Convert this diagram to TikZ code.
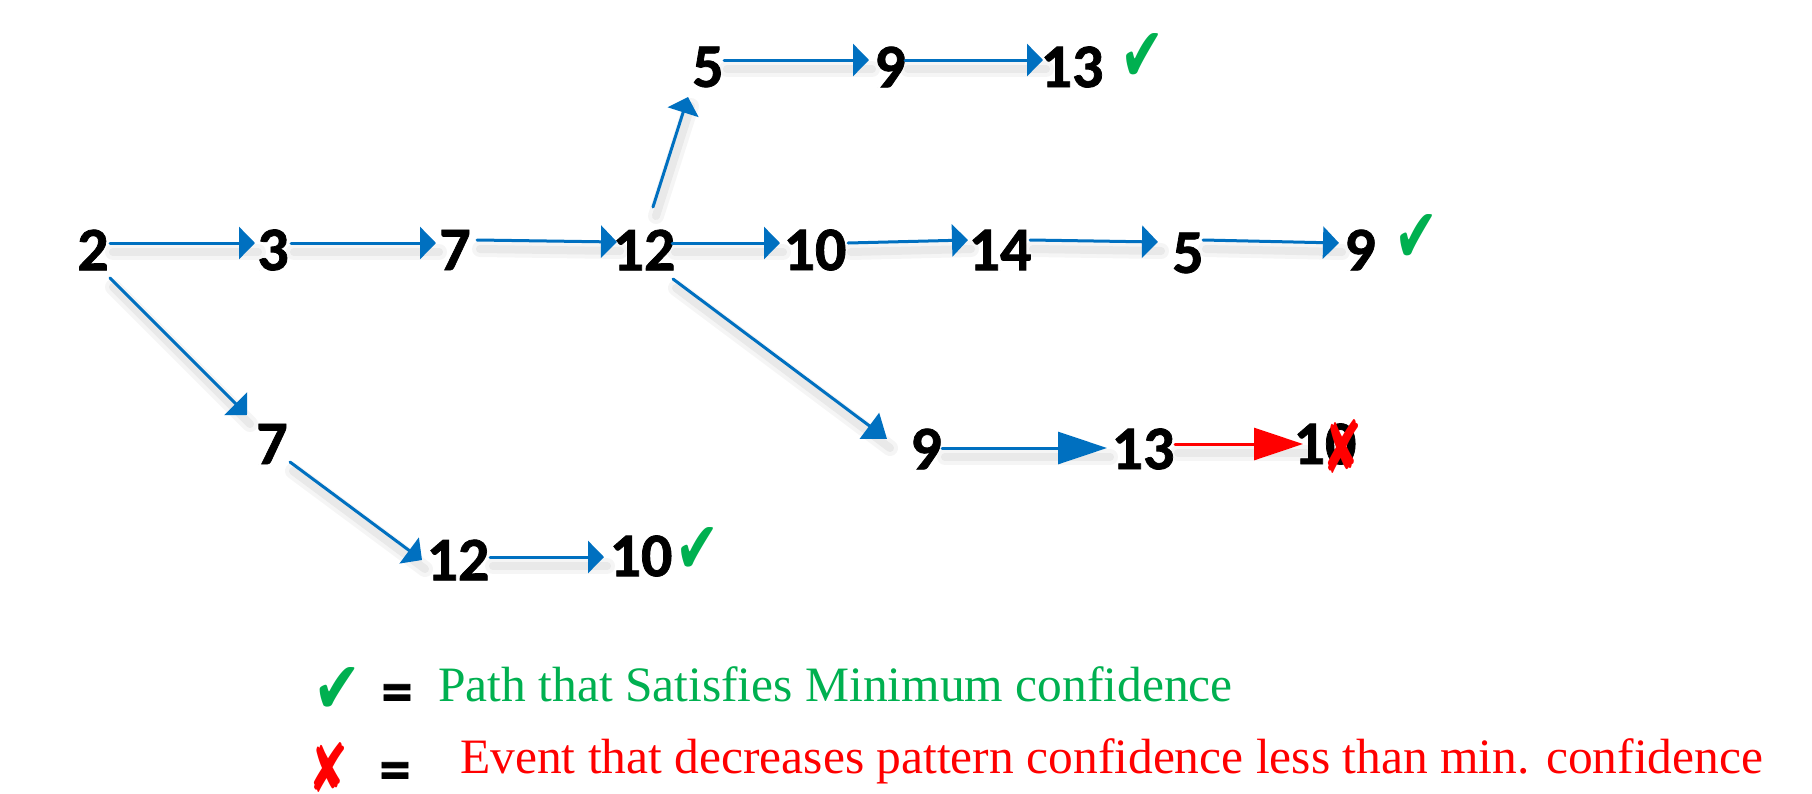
\documentclass[tikz,border=0pt]{standalone}
\usepackage{fontspec}
\usepackage{graphicx}
\setmainfont{Liberation Serif}
\newfontfamily\numfont{Carlito}[BoldFeatures={FakeBold=1.2}]
\newfontfamily\symfont{DejaVu Sans}
\usetikzlibrary{arrows.meta,calc}
\definecolor{arrblue}{HTML}{0070C0}
\definecolor{okgreen}{HTML}{00B050}
\definecolor{badred}{HTML}{FF0000}
\begin{document}
\begin{tikzpicture}[x=1pt,y=-1pt,
  num/.style={inner sep=0pt, font=\numfont\bfseries\fontsize{62}{62}\selectfont, text=black},
  lineshadow/.style={
    preaction={draw=black, opacity=0.04, line width=16pt, -, line cap=round, transform canvas={shift={(3pt,-9pt)}}},
    preaction={draw=black, opacity=0.05, line width=8pt, -, line cap=round, transform canvas={shift={(3pt,-9pt)}}}},
  arr/.style={draw=arrblue, line width=3pt, line cap=round, lineshadow, -{Triangle[length=16pt,width=32pt]}},
  midarr/.style={arr, -{Triangle[length=22pt,width=32pt]}},
  bigarr/.style={arr, -{Triangle[length=49pt,width=32pt]}},
  redarr/.style={bigarr, draw=badred, fill=badred},
  chk/.style={inner sep=0pt, font=\symfont, text=okgreen},
  xmk/.style={inner sep=0pt, font=\symfont, text=badred},
  eq/.style={inner sep=0pt, anchor=base, font=\numfont\bfseries\fontsize{62}{62}\selectfont, text=black},
  legtext/.style={inner sep=0pt, anchor=base west, font=\fontsize{49.5}{50}\selectfont}
]
\useasboundingbox (0,0) rectangle (1812,793);

% main row
\node[num] (n2)  at (93,250)   {2};
\node[num] (n3)  at (273,250)  {3};
\node[num] (n7)  at (455,250)  {7};
\node[num] (n12) at (644,250)  {12};
\node[num] (n10) at (815,250)  {10};
\node[num] (n14) at (1000,250) {14};
\node[num] (n5b) at (1188,253) {5};
\node[num] (n9b) at (1360,250) {9};
% top row
\node[num] (t5)  at (708,67)   {5};
\node[num] (t9)  at (890,67)   {9};
\node[num] (t13) at (1072,67)  {13};
% middle row
\node[num] (m9)  at (926,449)  {9};
\node[num] (m13) at (1143,449) {13};
\node[num] (m10) at (1325,444) {10};
% lower branch
\node[num] (l7)  at (272,444)  {7};
\node[num] (l12) at (458,560)  {12};
\node[num] (l10) at (641,556)  {10};

% marks
\node[chk] (c1) at (1142,57)  {\resizebox*{44pt}{48pt}{✔}};
\node[chk] (c2) at (1416,238) {\resizebox*{44pt}{48pt}{✔}};
\node[chk] (c3) at (697,550)  {\resizebox*{44pt}{46pt}{✔}};
\node[xmk] (x1) at (1342,446) {\resizebox*{40pt}{54pt}{✘}};

% connectors
\draw[arr] ($(n2)+(17,-7)$)  -- ($(n3)+(-18,-7)$);
\draw[arr] ($(n3)+(18,-7)$)  -- ($(n7)+(-19,-7)$);
\draw[arr] ($(n7)+(22,-10)$) -- ($(n12)+(-27,-8)$);
\draw[arr] ($(n12)+(28,-7)$) -- ($(n10)+(-35,-7)$);
\draw[arr] ($(n10)+(33,-7)$) -- ($(n14)+(-32,-10)$);
\draw[arr] ($(n14)+(30,-10)$) -- ($(n5b)+(-30,-11)$);
\draw[arr] ($(n5b)+(15,-13)$) -- ($(n9b)+(-21,-7)$);
\draw[arr] ($(n12)+(9,-43)$) -- ($(t5)+(-20,30)$);
\draw[arr] ($(t5)+(16,-7)$)  -- ($(t9)+(-21,-7)$);
\draw[arr] ($(t9)+(15,-7)$)  -- ($(t13)+(-29,-7)$);
\draw[midarr] ($(n12)+(29,29)$) -- ($(m9)+(-39,-10)$);
\draw[bigarr] ($(m9)+(16,-1)$) -- ($(m13)+(-36,-1)$);
\draw[redarr] ($(m13)+(32,-5)$) -- ($(m10)+(-22,0)$);
\draw[arr] ($(n2)+(17,28)$)  -- ($(l7)+(-25,-29)$);
\draw[arr] ($(l7)+(18,18)$)  -- ($(l12)+(-36,0)$);
\draw[arr] ($(l12)+(32,-3)$) -- ($(l10)+(-37,1)$);

% legend
\node[chk] (c4) at (337,690) {\resizebox*{48pt}{46pt}{✔}};
\node[eq] (e1) at (397,712) {=};
\node[legtext, text=okgreen] (lt1) at (438,701) {Path that Satisfies Minimum confidence};
\node[xmk] (x2) at (328,767) {\resizebox*{40pt}{50pt}{✘}};
\node[eq] (e2) at (395,790) {=};
\node[legtext, text=badred] (lt2) at (460,773) {Event that decreases pattern confidence less than min. confidence};
\end{tikzpicture}
\end{document}
